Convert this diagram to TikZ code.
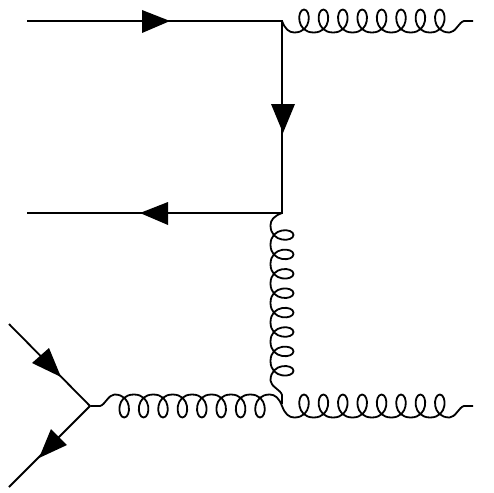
\documentclass[tikz,border=0pt]{standalone}
\tikzset{
  line/.style={line width=1.8pt,line join=miter},
  gluon/.style={line width=1.8pt,line join=round},
  headfill/.style={fill=black,draw=none},
}
% gluon in local coordinates: length 191, loops toward +y; each loop is two cubic arcs
\newcommand{\gluonpath}{
  (0,0) .. controls (3,-8) and (7,-11.5) .. (12.3,-11.5)
  \foreach \k in {0,...,7} {
    .. controls ({12.3+19.4*\k+18},-11.5) and ({12.3+19.4*\k+9.7+7},11.5) .. ({12.3+19.4*\k+9.7},11.5)
    .. controls ({12.3+19.4*\k+9.7-7},11.5) and ({12.3+19.4*\k+19.4-18},-11.5) .. ({12.3+19.4*\k+19.4},-11.5)
  }
  .. controls (173.5,-11.5) and (177,-1) .. (182,0) -- (191,0)
}
\begin{document}
\begin{tikzpicture}[x=1pt,y=-1pt]
\useasboundingbox (0,0) rectangle (494,492);
\coordinate (a1) at (27,21);
\coordinate (a2) at (282,21);
\coordinate (b1) at (27,213);
\coordinate (b2) at (282,213);
\coordinate (c0) at (9,324);
\coordinate (c1) at (9,487);
\coordinate (c2) at (90,406);
\coordinate (c3) at (282,406);
\draw[line] (a1) -- (a2) -- (b2) -- (b1);
\draw[line] (c0) -- (c2) -- (c1);
\begin{scope}[y=1pt]
\draw[gluon,shift={(a2)}] \gluonpath;
\draw[gluon,shift={(c3)}] \gluonpath;
\draw[gluon,shift={(b2)},rotate=-90] \gluonpath;
\draw[gluon,shift={(c3)},rotate=180] \gluonpath;
\end{scope}
\fill[headfill] (170,21) -- (142,10) -- (142,33) -- cycle;
\fill[headfill] (283,133) -- (271,104) -- (295,104) -- cycle;
\fill[headfill] (140,213) -- (168,202) -- (168,225) -- cycle;
\fill[headfill] (61,377) -- (49,348) -- (32,363) -- cycle;
\fill[headfill] (39,458) -- (51,429) -- (67,445) -- cycle;
\end{tikzpicture}
\end{document}
